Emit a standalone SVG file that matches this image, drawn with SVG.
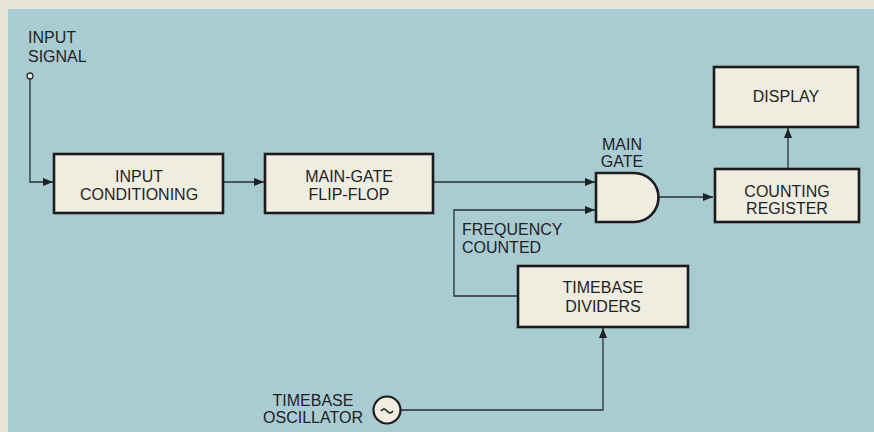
<svg xmlns="http://www.w3.org/2000/svg" width="874" height="432" viewBox="0 0 874 432">
<defs>
<style>
.t{font-family:"Liberation Sans",Arial,sans-serif;font-size:16px;fill:#1f2224}
.c{text-anchor:middle}
.box{fill:#efece0;stroke:#1c1c1c;stroke-width:2.6}
.ln{fill:none;stroke:#2a2f33;stroke-width:1.3}
</style>
<marker id="ah" markerUnits="userSpaceOnUse" markerWidth="10" markerHeight="8" refX="10" refY="4" orient="auto">
<path d="M0,0 L10,4 L0,8 z" fill="#1f2224"/>
</marker>
</defs>
<rect x="0" y="0" width="874" height="432" fill="#e8e4d8"/>
<rect x="8" y="9" width="866" height="423" fill="#a9cbd2"/>

<g id="connectors">
<circle cx="30" cy="76" r="3" fill="#efece0" stroke="#2a2f33" stroke-width="1.3"/>
<path class="ln" d="M30,79 V182 H53" marker-end="url(#ah)"/>
<path class="ln" d="M224,182 H264" marker-end="url(#ah)"/>
<path class="ln" d="M434,182 H595" marker-end="url(#ah)"/>
<path class="ln" d="M518,296 H454 V210 H595" marker-end="url(#ah)"/>
<path class="ln" d="M659,197 H713" marker-end="url(#ah)"/>
<path class="ln" d="M788,169 V128" marker-end="url(#ah)"/>
<path class="ln" d="M401,410 H603 V328" marker-end="url(#ah)"/>
</g>

<g id="input-signal">
<text class="t" x="28" y="43">INPUT</text>
<text class="t" x="28" y="62">SIGNAL</text>
</g>

<g id="input-conditioning">
<rect class="box" x="54" y="154" width="169" height="59"/>
<text class="t c" x="139" y="182">INPUT</text>
<text class="t c" x="139" y="200">CONDITIONING</text>
</g>

<g id="main-gate-flip-flop">
<rect class="box" x="265" y="154" width="168" height="59"/>
<text class="t c" x="349" y="182">MAIN-GATE</text>
<text class="t c" x="349" y="200">FLIP-FLOP</text>
</g>

<g id="main-gate">
<path class="box" d="M596,173 H634 A24.5,24.5 0 0 1 634,222 H596 Z"/>
<text class="t c" x="622" y="150">MAIN</text>
<text class="t c" x="622" y="167">GATE</text>
</g>

<g id="display">
<rect class="box" x="714" y="67" width="144" height="60"/>
<text class="t c" x="786" y="102">DISPLAY</text>
</g>

<g id="counting-register">
<rect class="box" x="715" y="169" width="144" height="53"/>
<text class="t c" x="787" y="197">COUNTING</text>
<text class="t c" x="787" y="214">REGISTER</text>
</g>

<g id="frequency-counted">
<text class="t" x="462" y="235">FREQUENCY</text>
<text class="t" x="462" y="253">COUNTED</text>
</g>

<g id="timebase-dividers">
<rect class="box" x="518" y="266" width="170" height="61"/>
<text class="t c" x="603" y="293">TIMEBASE</text>
<text class="t c" x="603" y="312">DIVIDERS</text>
</g>

<g id="timebase-oscillator">
<circle cx="387" cy="410" r="13.5" fill="#efece0" stroke="#1c1c1c" stroke-width="2.2"/>
<path d="M381,411 q3,-4 6,0 t6,0" fill="none" stroke="#1f2224" stroke-width="1.5"/>
<text class="t c" x="313" y="406">TIMEBASE</text>
<text class="t c" x="313" y="423">OSCILLATOR</text>
</g>
</svg>
